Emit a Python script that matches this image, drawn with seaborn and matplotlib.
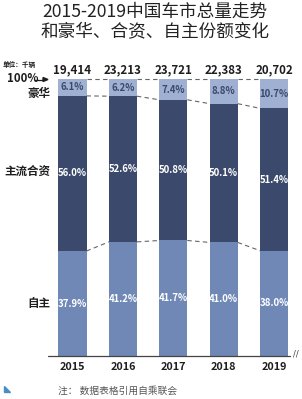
import matplotlib
matplotlib.use("Agg")
import matplotlib.pyplot as plt
import seaborn as sns
import pandas as pd
import numpy as np
from matplotlib.patches import Polygon

years = ["2015", "2016", "2017", "2018", "2019"]
totals = ["19,414", "23,213", "23,721", "22,383", "20,702"]
domestic = [37.9, 41.2, 41.7, 41.0, 38.0]      # 自主
joint = [56.0, 52.6, 50.8, 50.1, 51.4]         # 主流合资
luxury = [6.1, 6.2, 7.4, 8.8, 10.7]            # 豪华
series_names = ["自主", "主流合资", "豪华"]

sns.set_theme(style="white")
plt.rcParams['font.family'] = ['Noto Sans CJK SC', 'DejaVu Sans']

c_lux = "#9fb0d2"
c_joint = "#3b4a6c"
c_dom = "#6f88b6"
txt = "#1e1e1e"

W, H = 302, 399
fig = plt.figure(figsize=(W / 100, H / 100), dpi=100)
fig.patch.set_facecolor("white")

def fx(px):
    return px / W

def fy(py):
    return 1 - py / H

ax = fig.add_axes([fx(48), fy(356), fx(300) - fx(48), fy(79) - fy(356)])

df = pd.DataFrame({"year": years, "dom": domestic, "joint": joint, "lux": luxury})
df["c2"] = df["dom"] + df["joint"]
df["c3"] = df["c2"] + df["lux"]

bw = 0.556
sns.barplot(data=df, x="year", y="c3", color=c_lux, saturation=1, width=bw, ax=ax, order=years)
sns.barplot(data=df, x="year", y="c2", color=c_joint, saturation=1, width=bw, ax=ax, order=years)
sns.barplot(data=df, x="year", y="dom", color=c_dom, saturation=1, width=bw, ax=ax, order=years)
for p in ax.patches:
    p.set_edgecolor("none")

ax.set_xlim(-0.486, 4.514)
ax.set_ylim(0, 100)
ax.set_xlabel("")
ax.set_ylabel("")
ax.set_xticks([])
ax.set_yticks([])
for s in ax.spines.values():
    s.set_visible(False)

# dashed connectors
bounds = [df["dom"].tolist(), df["c2"].tolist(), [100.0] * 5]
for b in bounds:
    for i in range(4):
        ax.plot([i + bw / 2, i + 1 - bw / 2], [b[i], b[i + 1]], color="#666666",
                lw=0.8, ls=(0, (4, 3)), clip_on=False)

# segment labels
for i in range(5):
    d, j, l = domestic[i], joint[i], luxury[i]
    ax.text(i, d / 2, f"{d:.1f}%", ha="center", va="center", color="white",
            fontsize=6.9, fontweight="bold")
    ax.text(i, d + j / 2, f"{j:.1f}%", ha="center", va="center", color="white",
            fontsize=6.9, fontweight="bold")
    ax.text(i, d + j + l / 2, f"{l:.1f}%", ha="center", va="center", color=c_joint,
            fontsize=6.9, fontweight="bold")
    ax.text(i, 100 + 3.3, totals[i], ha="center", va="center", color=txt,
            fontsize=8.3, fontweight="bold")
    ax.text(i, -4.0, years[i], ha="center", va="center", color=txt,
            fontsize=7.8, fontweight="bold")

# baseline
fig.add_artist(plt.Line2D([fx(48), fx(290)], [fy(356), fy(356)], color="#444444", lw=0.9))
fig.text(fx(296), fy(354), "//", ha="center", va="center", fontsize=6, color="#444444",
         family="DejaVu Sans")

# left labels
fig.text(fx(50), fy(93), "豪华", ha="right", va="center", fontsize=8.3, color=txt, fontweight="bold")
fig.text(fx(50), fy(171), "主流合资", ha="right", va="center", fontsize=8.3, color=txt, fontweight="bold")
fig.text(fx(50), fy(304), "自主", ha="right", va="center", fontsize=8.3, color=txt, fontweight="bold")
fig.text(fx(7), fy(79), "100%", ha="left", va="center", fontsize=8.3, color=txt, fontweight="bold")
fig.add_artist(plt.Line2D([fx(35), fx(44)], [fy(79.5), fy(79.5)], color=txt, lw=0.9))
fig.add_artist(Polygon([[fx(43), fy(77.5)], [fx(48), fy(79.5)], [fx(43), fy(81.5)]],
                       closed=True, color=txt, transform=fig.transFigure))
fig.text(fx(3), fy(64), "单位：千辆", ha="left", va="center", fontsize=4.8, color=txt, fontweight="bold")

# title
fig.text(fx(155), fy(12), "2015-2019中国车市总量走势", ha="center", va="center",
         fontsize=12.7, color="#222222")
fig.text(fx(155), fy(32), "和豪华、合资、自主份额变化", ha="center", va="center",
         fontsize=12.7, color="#222222")

# footnote
fig.text(fx(58), fy(391), "注： 数据表格引用自乘联会", ha="left", va="center", fontsize=7.0, color="#555555")
fig.add_artist(Polygon([[fx(4), fy(386)], [fx(4), fy(392)], [fx(10), fy(392)]],
                       closed=True, color="#4a8cc8", transform=fig.transFigure))

fig.savefig("out.png", dpi=100, facecolor="white")
